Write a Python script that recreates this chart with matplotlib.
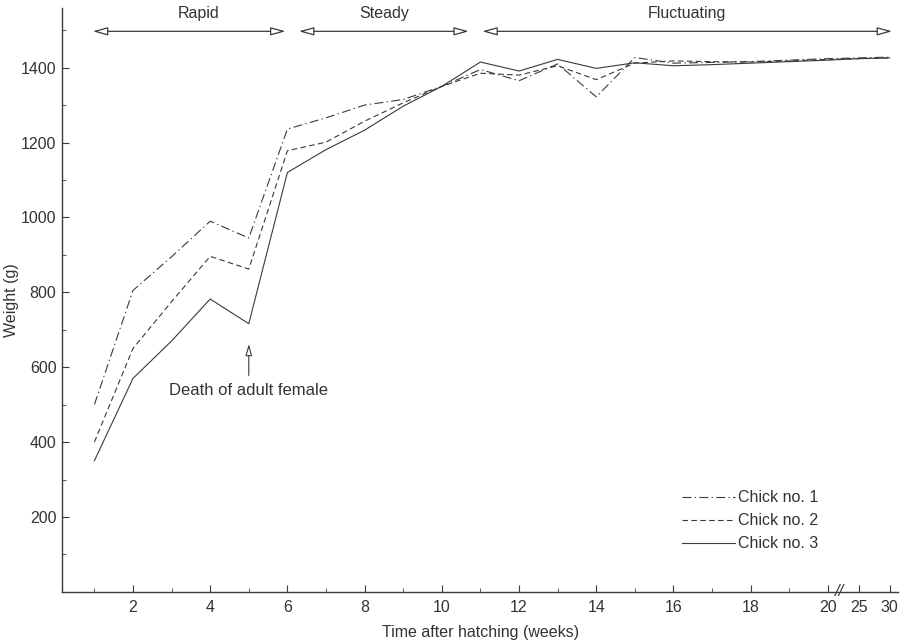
import matplotlib
matplotlib.use("Agg")
import matplotlib.pyplot as plt
import numpy as np

plt.rcParams['font.family'] = ['Liberation Sans', 'DejaVu Sans']

weeks = [1, 2, 3, 4, 5, 6, 7, 8, 9, 10, 11, 12, 13, 14, 15, 16, 17, 18, 19, 20, 25, 30]
chick1 = [500, 805, 895, 990, 945, 1236, 1266, 1300, 1315, 1350, 1395, 1365, 1410, 1322,
          1427, 1412, 1414, 1416, 1420, 1424, 1426, 1428]
chick2 = [400, 650, 775, 896, 862, 1178, 1201, 1257, 1306, 1350, 1385, 1380, 1405, 1368,
          1412, 1418, 1416, 1415, 1418, 1422, 1424, 1426]
chick3 = [350, 570, 670, 782, 716, 1120, 1181, 1233, 1297, 1350, 1415, 1391, 1422, 1398,
          1413, 1405, 1408, 1412, 1416, 1420, 1424, 1426]
series_labels = ['Chick no. 1', 'Chick no. 2', 'Chick no. 3']

phase_names = ['Rapid', 'Steady', 'Fluctuating']
phase_start = [0.96, 6.3, 11.05]
phase_end = [5.95, 10.7, 30.4]
phase_label_x = [3.71, 8.5, 16.36]

xtick_weeks = [2, 4, 6, 8, 10, 12, 14, 16, 18, 20, 25, 30]
xminor_weeks = [1, 3, 5, 7, 9, 11, 13, 15, 17, 19]
ytick_vals = [200, 400, 600, 800, 1000, 1200, 1400]

BREAK = 20.0
K = 0.16


def fwd(w):
    w = np.asarray(w, dtype=float)
    return np.where(w <= BREAK, w, BREAK + (w - BREAK) * K)


def inv(p):
    p = np.asarray(p, dtype=float)
    return np.where(p <= BREAK, p, BREAK + (p - BREAK) / K)


ink = '#3a3a3a'
fig = plt.figure(figsize=(9.11, 6.44), dpi=100)
ax = fig.add_axes([0.068, 0.081, 0.918, 0.907])
ax.set_xscale('function', functions=(fwd, inv))

ax.plot(weeks, chick1, color=ink, lw=0.8, dashes=(8, 3, 1.2, 3), label=series_labels[0])
ax.plot(weeks, chick2, color=ink, lw=0.8, dashes=(5, 3), label=series_labels[1])
ax.plot(weeks, chick3, color=ink, lw=0.8, label=series_labels[2])

ax.set_xlim(0.16, 31.4)
ax.set_ylim(0, 1560)

for s in ['top', 'right']:
    ax.spines[s].set_visible(False)
for s in ['left', 'bottom']:
    ax.spines[s].set_color(ink)
    ax.spines[s].set_linewidth(1.0)

ax.set_xticks(xtick_weeks)
ax.set_xticklabels([str(w) for w in xtick_weeks])
ax.set_xticks(xminor_weeks, minor=True)
ax.set_yticks(ytick_vals)
ax.set_yticks(np.arange(100, 1600, 100), minor=True)
ax.tick_params(axis='both', which='major', direction='in', length=5, width=0.8,
               colors=ink, labelsize=11.5, labelcolor='#333333')
ax.tick_params(axis='both', which='minor', direction='in', length=3, width=0.6, colors=ink)
ax.tick_params(axis='x', pad=6)
ax.tick_params(axis='y', pad=4)

ax.set_xlabel('Time after hatching (weeks)', fontsize=11.5, color='#333333', labelpad=7)
ax.set_ylabel('Weight (g)', fontsize=11.5, color='#333333')
ax.yaxis.set_label_coords(-0.051, 0.5)

# phase arrows
for name, a, b, lx in zip(phase_names, phase_start, phase_end, phase_label_x):
    ax.annotate('', xy=(b, 1497), xytext=(a, 1497),
                arrowprops=dict(arrowstyle='<|-|>,head_length=0.9,head_width=0.25',
                                fc='white', ec=ink, lw=0.9, shrinkA=0, shrinkB=0),
                annotation_clip=False)
    ax.text(lx, 1545, name, ha='center', va='center', fontsize=11.5, color='#333333')

# death annotation
ax.annotate('', xy=(5, 662), xytext=(5, 578),
            arrowprops=dict(arrowstyle='-|>,head_length=0.7,head_width=0.2',
                            fc='white', ec=ink, lw=0.8, shrinkA=0, shrinkB=0))
ax.text(5, 537, 'Death of adult female', ha='center', va='center', fontsize=12,
        color='#333333')

# axis break mark
ax.text(21.95, 0, '//', ha='center', va='center', fontsize=12, color=ink,
        clip_on=False, fontstyle='italic')

leg = ax.legend(loc='upper left', bbox_to_anchor=(0.734, 0.185), frameon=False,
                fontsize=11.5, handlelength=3.3, handletextpad=0.2, labelspacing=0.5,
                borderaxespad=0)
for t in leg.get_texts():
    t.set_color('#333333')

fig.savefig('out.png', dpi=100)
